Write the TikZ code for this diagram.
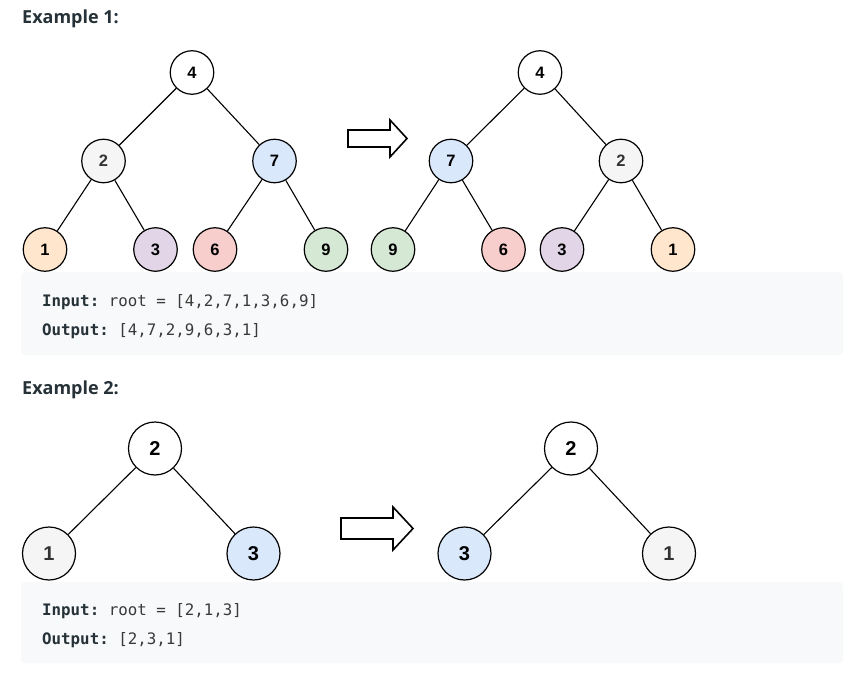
\documentclass[tikz,border=0pt]{standalone}
\usepackage{fontspec}
\newfontfamily\nodefont{Liberation Sans}[BoldFont={Liberation Sans Bold}]
\newfontfamily\headfont{Open Sans}
\newfontfamily\codefont{DejaVu Sans Mono}
\definecolor{cwhite}{HTML}{FFFFFF}
\definecolor{cgray}{HTML}{F5F5F5}
\definecolor{cblue}{HTML}{DAE8FC}
\definecolor{corange}{HTML}{FFE6CC}
\definecolor{cpurple}{HTML}{E1D5E7}
\definecolor{cred}{HTML}{F8CECC}
\definecolor{cgreen}{HTML}{D5E8D4}
\definecolor{codebg}{HTML}{F7F9FA}
\definecolor{headcol}{HTML}{263238}
\definecolor{codecol}{HTML}{3A3A3A}
\definecolor{graytext}{HTML}{333333}
\tikzset{
  tnode/.style={circle, draw=black, line width=1.2pt, minimum size=43.5pt, inner sep=0pt,
    font=\nodefont\bfseries\fontsize{16.5}{16.5}\selectfont},
  bnode/.style={circle, draw=black, line width=1.2pt, minimum size=53pt, inner sep=0pt,
    font=\nodefont\bfseries\fontsize{20}{20}\selectfont},
  gnode/.style={fill=cgray, text=graytext},
  edge/.style={line width=1.1pt, black},
  heading/.style={anchor=base west, inner sep=0pt, text=headcol,
    font=\headfont\bfseries\fontsize{18}{18}\selectfont},
  codeline/.style={anchor=base west, inner sep=0pt, text=codecol,
    font=\codefont\fontsize{15.8}{15.8}\selectfont},
  bigarrow/.style={draw=black, line width=1.6pt, fill=white, line join=miter}
}
\newcommand{\codelabel}[1]{{\bfseries\color{headcol}#1}}
\begin{document}
\begin{tikzpicture}[x=1pt,y=-1pt]
\useasboundingbox (0,0) rectangle (857,674);
\fill[white] (0,0) rectangle (857,674);

% Example 1
\node[heading] (h1) at (22,24) {Example 1:};

\node[tnode, fill=cwhite] (a4) at (192,72.5) {4};
\node[tnode, gnode] (a2) at (103.5,161) {2};
\node[tnode, fill=cblue] (a7) at (274.5,161) {7};
\node[tnode, fill=corange] (a1) at (45,249.5) {1};
\node[tnode, fill=cpurple] (a3) at (155.5,249.5) {3};
\node[tnode, fill=cred] (a6) at (215,249.5) {6};
\node[tnode, fill=cgreen] (a9) at (326,249.5) {9};
\draw[edge] (a4) -- (a2);
\draw[edge] (a4) -- (a7);
\draw[edge] (a2) -- (a1);
\draw[edge] (a2) -- (a3);
\draw[edge] (a7) -- (a6);
\draw[edge] (a7) -- (a9);

\draw[bigarrow] (348,130) -- (390,130) -- (390,120) -- (407,138.5) -- (390,157) -- (390,147) -- (348,147) -- cycle;

\node[tnode, fill=cwhite] (b4) at (540,72.5) {4};
\node[tnode, fill=cblue] (b7) at (451,161) {7};
\node[tnode, gnode] (b2) at (621,161) {2};
\node[tnode, fill=cgreen] (b9) at (393,249.5) {9};
\node[tnode, fill=cred] (b6) at (503.5,249.5) {6};
\node[tnode, fill=cpurple] (b3) at (562,249.5) {3};
\node[tnode, fill=corange] (b1) at (673,249.5) {1};
\draw[edge] (b4) -- (b7);
\draw[edge] (b4) -- (b2);
\draw[edge] (b7) -- (b9);
\draw[edge] (b7) -- (b6);
\draw[edge] (b2) -- (b3);
\draw[edge] (b2) -- (b1);

\fill[codebg, rounded corners=4pt] (21,272) rectangle (843,355);
\node[codeline] (i1) at (42,306) {\codelabel{Input:}\ root = [4,2,7,1,3,6,9]};
\node[codeline] (o1) at (42,335) {\codelabel{Output:}\ [4,7,2,9,6,3,1]};

% Example 2
\node[heading] (h2) at (22,394) {Example 2:};

\node[bnode, fill=cwhite] (c2) at (155,448.5) {2};
\node[bnode, gnode] (c1) at (49,553.5) {1};
\node[bnode, fill=cblue] (c3) at (253.5,553.5) {3};
\draw[edge] (c2) -- (c1);
\draw[edge] (c2) -- (c3);

\draw[bigarrow] (341,518) -- (393,518) -- (393,507) -- (413,528.5) -- (393,550) -- (393,539) -- (341,539) -- cycle;

\node[bnode, fill=cwhite] (d2) at (571,448.5) {2};
\node[bnode, fill=cblue] (d3) at (464.5,553.5) {3};
\node[bnode, gnode] (d1) at (669,553.5) {1};
\draw[edge] (d2) -- (d3);
\draw[edge] (d2) -- (d1);

\fill[codebg, rounded corners=4pt] (21,582) rectangle (843,663);
\node[codeline] (i2) at (42,615) {\codelabel{Input:}\ root = [2,1,3]};
\node[codeline] (o2) at (42,644) {\codelabel{Output:}\ [2,3,1]};
\end{tikzpicture}
\end{document}
